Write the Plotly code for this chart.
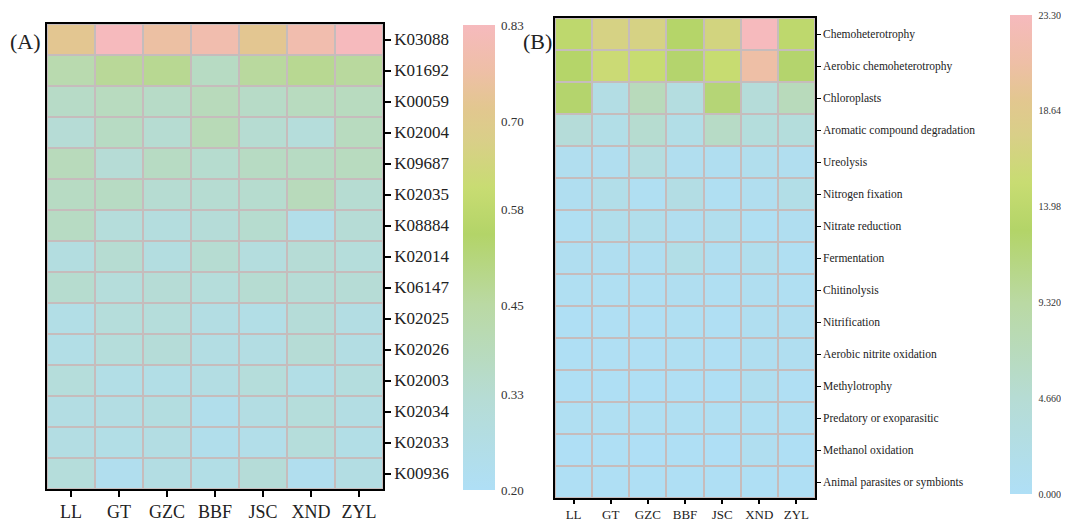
import plotly.graph_objects as go

samples = ["LL", "GT", "GZC", "BBF", "JSC", "XND", "ZYL"]

kos = ["K03088", "K01692", "K00059", "K02004", "K09687", "K02035", "K08884",
       "K02014", "K06147", "K02025", "K02026", "K02003", "K02034", "K02033", "K00936"]
ko_values = [
    [0.72, 0.83, 0.76, 0.79, 0.72, 0.79, 0.83],
    [0.42, 0.47, 0.48, 0.37, 0.46, 0.48, 0.46],
    [0.36, 0.38, 0.36, 0.39, 0.36, 0.38, 0.38],
    [0.32, 0.37, 0.33, 0.40, 0.33, 0.30, 0.38],
    [0.39, 0.32, 0.37, 0.34, 0.37, 0.37, 0.38],
    [0.37, 0.37, 0.33, 0.33, 0.34, 0.39, 0.33],
    [0.37, 0.30, 0.29, 0.31, 0.34, 0.25, 0.32],
    [0.28, 0.33, 0.28, 0.33, 0.29, 0.32, 0.30],
    [0.34, 0.30, 0.32, 0.30, 0.33, 0.32, 0.32],
    [0.26, 0.30, 0.30, 0.27, 0.26, 0.31, 0.27],
    [0.26, 0.30, 0.31, 0.27, 0.27, 0.32, 0.27],
    [0.30, 0.26, 0.26, 0.27, 0.30, 0.26, 0.29],
    [0.27, 0.27, 0.28, 0.24, 0.27, 0.30, 0.27],
    [0.27, 0.26, 0.27, 0.24, 0.25, 0.30, 0.26],
    [0.30, 0.23, 0.27, 0.26, 0.31, 0.23, 0.27],
]
ko_ticks = [0.20, 0.33, 0.45, 0.58, 0.70, 0.83]
ko_ticktext = ["0.20", "0.33", "0.45", "0.58", "0.70", "0.83"]

functions = ["Chemoheterotrophy", "Aerobic chemoheterotrophy", "Chloroplasts",
             "Aromatic compound degradation", "Ureolysis", "Nitrogen fixation",
             "Nitrate reduction", "Fermentation", "Chitinolysis", "Nitrification",
             "Aerobic nitrite oxidation", "Methylotrophy", "Predatory or exoparasitic",
             "Methanol oxidation", "Animal parasites or symbionts"]
func_values = [
    [14.0, 17.0, 17.0, 13.0, 16.5, 23.3, 14.0],
    [13.0, 15.5, 15.0, 12.5, 15.0, 21.0, 12.5],
    [12.5, 2.5, 7.0, 3.0, 12.0, 4.0, 7.0],
    [4.0, 2.0, 5.0, 2.0, 6.0, 3.5, 3.5],
    [1.0, 1.0, 3.0, 1.0, 0.8, 1.2, 1.0],
    [0.8, 1.8, 0.6, 2.5, 0.5, 1.0, 2.0],
    [0.5, 1.5, 1.5, 1.0, 1.2, 0.5, 0.8],
    [0.8, 0.8, 0.8, 2.0, 0.8, 1.2, 0.6],
    [0.6, 0.6, 0.6, 0.8, 0.6, 0.8, 0.6],
    [0.3, 0.4, 0.4, 0.6, 0.4, 0.8, 0.8],
    [0.3, 0.4, 0.4, 0.6, 0.4, 0.8, 0.8],
    [0.3, 0.3, 0.3, 0.4, 0.3, 0.9, 0.4],
    [0.5, 0.5, 0.5, 0.5, 0.5, 0.5, 0.5],
    [0.2, 0.3, 0.2, 0.3, 0.2, 0.8, 0.3],
    [0.3, 0.3, 0.3, 0.3, 0.3, 0.3, 0.3],
]
func_ticks = [0.0, 4.66, 9.32, 13.98, 18.64, 23.30]
func_ticktext = ["0.000", "4.660", "9.320", "13.98", "18.64", "23.30"]

colorscale = [
    [0.00, "#afdff6"],
    [0.20, "#b6dcd4"],
    [0.40, "#bad9a3"],
    [0.55, "#b3d468"],
    [0.65, "#c8dc72"],
    [0.75, "#d9cf88"],
    [0.82, "#e2c78f"],
    [0.90, "#eebfa6"],
    [1.00, "#f6babd"],
]

SERIF = "Liberation Serif, Times New Roman, serif"
OFF = 8  # default page margin around the figure
W, H = 1069 - OFF, 522 - OFF


def fx(px):
    return (px - OFF) / W


def fy(py):
    return (H - (py - OFF)) / H


fig = go.Figure()
fig.add_trace(go.Heatmap(
    z=ko_values, x=samples, y=kos, xaxis="x", yaxis="y",
    zmin=0.20, zmax=0.83, colorscale=colorscale, xgap=2, ygap=2,
    colorbar=dict(
        x=fx(463), xanchor="left", thickness=32, thicknessmode="pixels",
        len=(490 - 25) / H, lenmode="fraction", y=fy(257.5), yanchor="middle",
        outlinewidth=0, tickvals=ko_ticks, ticktext=ko_ticktext,
        ticks="outside", ticklen=4, tickcolor="rgba(0,0,0,0)",
        tickfont=dict(family=SERIF, size=13, color="#333"), ypad=0, xpad=0,
    ),
))
fig.add_trace(go.Heatmap(
    z=func_values, x=samples, y=functions, xaxis="x2", yaxis="y2",
    zmin=0.0, zmax=23.30, colorscale=colorscale, xgap=2, ygap=2,
    colorbar=dict(
        x=fx(1010), xanchor="left", thickness=22, thicknessmode="pixels",
        len=(494 - 15) / H, lenmode="fraction", y=fy(254.5), yanchor="middle",
        outlinewidth=0, tickvals=func_ticks, ticktext=func_ticktext,
        ticks="outside", ticklen=5, tickcolor="rgba(0,0,0,0)",
        tickfont=dict(family=SERIF, size=10, color="#333"), ypad=0, xpad=0,
    ),
))

axis_common = dict(showline=True, linecolor="black", linewidth=1.5, mirror=True,
                   ticks="outside", tickcolor="black", showgrid=False, zeroline=False)

fig.update_layout(
    width=W, height=H,
    margin=dict(l=0, r=0, t=0, b=0, autoexpand=False),
    paper_bgcolor="white",
    plot_bgcolor="#c6bcbc",
    showlegend=False,
    xaxis=dict(domain=[fx(47), fx(383)], anchor="y", ticklen=6, tickwidth=1.5,
               tickfont=dict(family=SERIF, size=18, color="#222"), **axis_common),
    yaxis=dict(domain=[fy(489), fy(24)], anchor="x", side="right",
               autorange="reversed", ticklen=6, tickwidth=1.5,
               tickfont=dict(family=SERIF, size=17, color="#222"), **axis_common),
    xaxis2=dict(domain=[fx(555), fx(815)], anchor="y2", ticklen=4, tickwidth=1.5,
                tickfont=dict(family=SERIF, size=13, color="#222"), **axis_common),
    yaxis2=dict(domain=[fy(498), fy(18)], anchor="x2", side="right",
                autorange="reversed", ticklen=4, tickwidth=1,
                tickfont=dict(family=SERIF, size=11.5, color="#222"), **axis_common),
    annotations=[
        dict(text="(A)", x=fx(8), y=fy(42), xref="paper", yref="paper",
             xanchor="left", yanchor="middle", showarrow=False,
             font=dict(family=SERIF, size=22, color="#222")),
        dict(text="(B)", x=fx(521), y=fy(42), xref="paper", yref="paper",
             xanchor="left", yanchor="middle", showarrow=False,
             font=dict(family=SERIF, size=22, color="#222")),
    ],
)

fig.write_html("out.html")
